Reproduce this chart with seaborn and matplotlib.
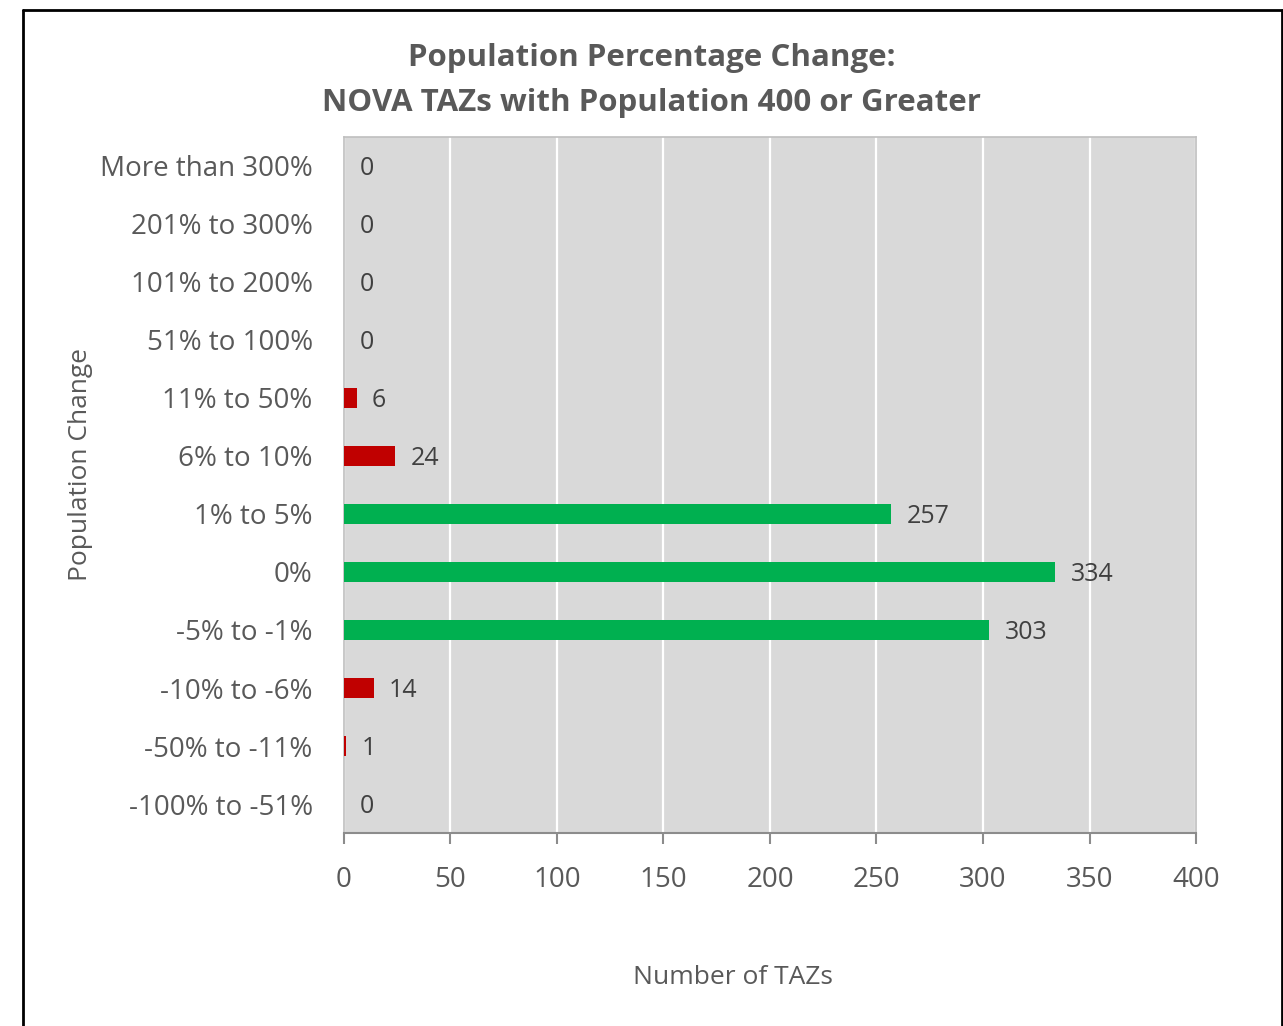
import matplotlib
matplotlib.use('Agg')
import matplotlib.pyplot as plt
import seaborn as sns
import pandas as pd

# data (top to bottom)
categories = ['More than 300%', '201% to 300%', '101% to 200%', '51% to 100%',
              '11% to 50%', '6% to 10%', '1% to 5%', '0%', '-5% to -1%',
              '-10% to -6%', '-50% to -11%', '-100% to -51%']
counts = [0, 0, 0, 0, 6, 24, 257, 334, 303, 14, 1, 0]
bar_colors = ['#C00000', '#C00000', '#C00000', '#C00000', '#C00000', '#C00000',
              '#00B050', '#00B050', '#00B050', '#C00000', '#C00000', '#C00000']
x_ticks = [0, 50, 100, 150, 200, 250, 300, 350, 400]

df = pd.DataFrame({'category': categories, 'count': counts})
palette = dict(zip(categories, bar_colors))

sns.set_style('white')
plt.rcParams['font.family'] = ['Open Sans', 'DejaVu Sans']

text_gray = '#595959'

fig = plt.figure(figsize=(12.83, 10.26), dpi=100)
ax = fig.add_axes([0.2681, 0.1881, 0.6641, 0.6784])
ax.set_facecolor('#D9D9D9')

sns.barplot(data=df, y='category', x='count', hue='category', palette=palette,
            order=categories, hue_order=categories, width=0.36, legend=False,
            orient='h', saturation=1, linewidth=0, ax=ax, zorder=3)

ax.set_xlim(0, 400)
ax.set_xticks(x_ticks)
ax.grid(axis='x', color='white', linewidth=1.6, zorder=1)
ax.grid(axis='y', visible=False)
ax.set_axisbelow(True)

for spine in ['top', 'right', 'left']:
    ax.spines[spine].set_color('#BFBFBF')
    ax.spines[spine].set_linewidth(1.2)
ax.spines['bottom'].set_color('#8C8C8C')
ax.spines['bottom'].set_linewidth(1.5)

ax.tick_params(axis='x', which='both', bottom=True, length=8, width=1.5,
               color='#8C8C8C', labelsize=20, labelcolor=text_gray, pad=16)
ax.tick_params(axis='y', left=False, labelsize=20, labelcolor=text_gray, pad=19)

for i, v in enumerate(counts):
    ax.annotate(str(v), xy=(v, i), xytext=(11, -2), textcoords='offset points',
                ha='left', va='center', fontsize=18, color='#404040')

ax.set_ylabel('')
ax.set_xlabel('')
fig.text(0.063, 0.547, 'Population Change', rotation=90, ha='center', va='center',
         fontsize=19, color=text_gray)
fig.text(0.571, 0.047, 'Number of TAZs', ha='center', va='center',
         fontsize=19, color=text_gray)

fig.text(0.508, 0.922, 'Population Percentage Change:\nNOVA TAZs with Population 400 or Greater',
         ha='center', va='center', fontsize=22.5, fontweight='bold', color=text_gray,
         linespacing=1.65)

# outer chart border (left, top, right)
fig.add_artist(plt.Line2D([0.0183, 0.0183], [0, 0.9905], color='black', lw=2,
                          transform=fig.transFigure))
fig.add_artist(plt.Line2D([0.0183, 0.999], [0.9905, 0.9905], color='black', lw=2,
                          transform=fig.transFigure))
fig.add_artist(plt.Line2D([0.999, 0.999], [0, 0.9905], color='black', lw=2,
                          transform=fig.transFigure))

fig.savefig('out.png', dpi=100, facecolor='white')
